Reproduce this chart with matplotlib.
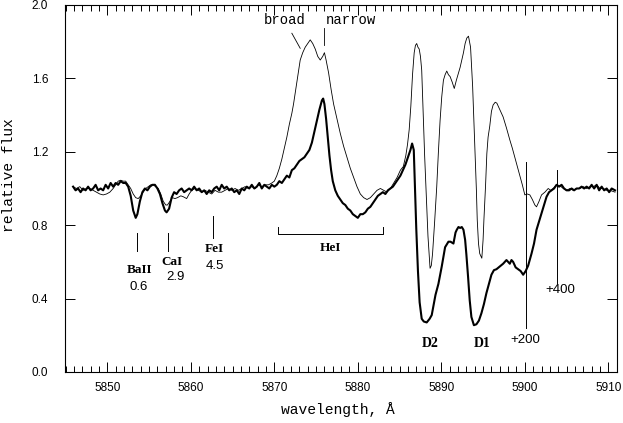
import numpy as np
import matplotlib
matplotlib.use("Agg")
import matplotlib.pyplot as plt
from matplotlib.ticker import MultipleLocator, FormatStrFormatter

# ─────────────────────────────────────────
# DATA
# ─────────────────────────────────────────

# thick line: narrow component spectrum
narrow_wl = [
    5845.9, 5846.2, 5846.5, 5846.8, 5847.1, 5847.4, 5847.7, 5848.0, 5848.3, 5848.6,
    5848.9, 5849.2, 5849.5, 5849.8, 5850.1, 5850.4, 5850.7, 5851.0, 5851.3, 5851.6,
    5851.9, 5852.2, 5852.5, 5852.8, 5853.1, 5853.4, 5853.6, 5853.9, 5854.2, 5854.5,
    5854.8, 5855.1, 5855.4, 5855.7, 5856.0, 5856.3, 5856.6, 5856.9, 5857.1, 5857.4,
    5857.7, 5858.0, 5858.3, 5858.6, 5858.9, 5859.2, 5859.5, 5859.8, 5860.1, 5860.4,
    5860.7, 5861.0, 5861.3, 5861.6, 5861.9, 5862.2, 5862.5, 5862.8, 5863.1, 5863.4,
    5863.7, 5864.0, 5864.3, 5864.6, 5864.9, 5865.2, 5865.5, 5865.8, 5866.1, 5866.4,
    5866.7, 5867.0, 5867.3, 5867.6, 5867.9, 5868.2, 5868.5, 5868.8, 5869.1, 5869.4,
    5869.7, 5870.0, 5870.3, 5870.6, 5870.9, 5871.2, 5871.5, 5871.8, 5872.1, 5872.4,
    5872.7, 5873.0, 5873.3, 5873.6, 5873.9, 5874.2, 5874.5, 5874.8, 5875.1, 5875.4,
    5875.7, 5875.85, 5876.0, 5876.2, 5876.4, 5876.6, 5876.8, 5877.0, 5877.3, 5877.6,
    5877.9, 5878.2, 5878.5, 5878.8, 5879.1, 5879.4, 5879.7, 5880.0, 5880.3, 5880.6,
    5880.9, 5881.2, 5881.5, 5881.8, 5882.1, 5882.4, 5882.7, 5883.0, 5883.3, 5883.6,
    5883.9, 5884.2, 5884.5, 5884.8, 5885.1, 5885.4, 5885.7, 5886.0, 5886.3, 5886.5,
    5886.7, 5886.85, 5887.0, 5887.2, 5887.4, 5887.65, 5887.9, 5888.25, 5888.6, 5888.85,
    5889.1, 5889.3, 5889.65, 5890.05, 5890.45, 5890.85, 5891.1, 5891.45, 5891.7, 5891.85,
    5892.05, 5892.25, 5892.45, 5892.65, 5892.85, 5893.0, 5893.2, 5893.4, 5893.6, 5893.9,
    5894.2, 5894.5, 5894.8, 5895.1, 5895.4, 5895.7, 5896.0, 5896.3, 5896.6, 5897.0,
    5897.4, 5897.8, 5898.0, 5898.2, 5898.4, 5898.6, 5898.9, 5899.2, 5899.5, 5899.8,
    5900.1, 5900.4, 5900.8, 5901.1, 5901.4, 5901.7, 5902.0, 5902.3, 5902.6, 5902.9,
    5903.2, 5903.5, 5903.8, 5904.1, 5904.4, 5904.7, 5905.0, 5905.3, 5905.6, 5905.9,
    5906.2, 5906.5, 5906.8, 5907.1, 5907.4, 5907.7, 5908.0, 5908.3, 5908.6, 5908.9,
    5909.2, 5909.5, 5909.8, 5910.1, 5910.4, 5910.8,
]
narrow_flux = [
    1.01, 0.99, 1.00, 0.98, 1.00, 0.99, 1.01, 0.99, 1.00, 1.02,
    0.99, 1.00, 0.99, 1.02, 1.00, 1.03, 1.01, 1.03, 1.02, 1.04,
    1.03, 1.03, 1.01, 0.96, 0.88, 0.84, 0.86, 0.93, 0.98, 1.00,
    0.99, 1.01, 1.02, 1.02, 1.00, 0.97, 0.92, 0.88, 0.87, 0.89,
    0.95, 0.98, 0.97, 0.99, 1.00, 0.98, 0.99, 1.00, 0.99, 1.01,
    0.99, 1.00, 0.98, 0.99, 0.97, 0.99, 0.98, 1.00, 1.01, 0.99,
    1.02, 1.00, 1.01, 0.99, 1.00, 0.98, 0.99, 0.97, 1.00, 0.99,
    1.01, 1.00, 1.02, 1.00, 1.01, 1.03, 1.00, 1.02, 1.01, 1.00,
    1.02, 1.01, 1.02, 1.04, 1.03, 1.05, 1.07, 1.06, 1.10, 1.11,
    1.13, 1.15, 1.16, 1.17, 1.19, 1.21, 1.25, 1.31, 1.37, 1.43,
    1.48, 1.49, 1.46, 1.38, 1.28, 1.18, 1.10, 1.04, 0.99, 0.96,
    0.94, 0.92, 0.91, 0.89, 0.88, 0.86, 0.85, 0.84, 0.86, 0.86,
    0.87, 0.89, 0.90, 0.92, 0.94, 0.96, 0.97, 0.98, 0.97, 0.99,
    1.00, 1.01, 1.03, 1.05, 1.07, 1.10, 1.13, 1.17, 1.21, 1.245,
    1.21, 1.00, 0.78, 0.55, 0.38, 0.29, 0.275, 0.27, 0.29, 0.31,
    0.37, 0.42, 0.48, 0.575, 0.68, 0.71, 0.71, 0.70, 0.76, 0.775,
    0.79, 0.785, 0.79, 0.775, 0.72, 0.64, 0.52, 0.39, 0.30, 0.255,
    0.26, 0.28, 0.32, 0.37, 0.43, 0.48, 0.53, 0.555, 0.56, 0.575,
    0.59, 0.61, 0.60, 0.59, 0.61, 0.60, 0.57, 0.56, 0.55, 0.53,
    0.55, 0.58, 0.645, 0.70, 0.775, 0.82, 0.865, 0.91, 0.955, 0.98,
    0.99, 1.00, 1.02, 1.01, 1.02, 1.00, 0.99, 0.99, 1.00, 0.99,
    1.00, 1.00, 1.01, 1.00, 1.01, 1.00, 1.02, 1.00, 1.02, 0.99,
    1.01, 0.99, 1.00, 0.98, 1.00, 0.99,
]

# thin line: broad component spectrum
broad_wl = [
    5845.9, 5846.3, 5846.7, 5847.1, 5847.5, 5847.9, 5848.3, 5848.7, 5849.1, 5849.5,
    5849.9, 5850.3, 5850.7, 5851.0, 5851.3, 5851.6, 5851.9, 5852.2, 5852.5, 5852.8,
    5853.1, 5853.4, 5853.7, 5854.0, 5854.3, 5854.6, 5854.9, 5855.2, 5855.5, 5855.8,
    5856.1, 5856.4, 5856.7, 5857.0, 5857.2, 5857.5, 5857.8, 5858.1, 5858.4, 5858.8,
    5859.1, 5859.5, 5859.8, 5860.1, 5860.5, 5860.9, 5861.3, 5861.7, 5862.1, 5862.5,
    5862.9, 5863.3, 5863.7, 5864.1, 5864.5, 5864.9, 5865.3, 5865.7, 5866.1, 5866.5,
    5866.9, 5867.3, 5867.7, 5868.1, 5868.5, 5868.9, 5869.3, 5869.7, 5870.0, 5870.3,
    5870.6, 5870.9, 5871.2, 5871.5, 5871.8, 5872.1, 5872.3, 5872.6, 5872.9, 5873.1,
    5873.4, 5873.7, 5874.0, 5874.3, 5874.6, 5874.9, 5875.2, 5875.5, 5875.8, 5876.0,
    5876.2, 5876.5, 5876.8, 5877.1, 5877.5, 5877.9, 5878.3, 5878.7, 5879.1, 5879.5,
    5879.9, 5880.3, 5880.7, 5881.1, 5881.5, 5881.9, 5882.3, 5882.7, 5883.1, 5883.5,
    5883.9, 5884.3, 5884.7, 5885.1, 5885.45, 5885.75, 5885.95, 5886.15, 5886.35, 5886.55,
    5886.75, 5886.9, 5887.05, 5887.2, 5887.35, 5887.5, 5887.65, 5887.85, 5888.0, 5888.15,
    5888.4, 5888.65, 5888.8, 5888.95, 5889.2, 5889.45, 5889.65, 5889.85, 5890.05, 5890.25,
    5890.45, 5890.65, 5890.85, 5891.05, 5891.3, 5891.55, 5891.8, 5892.05, 5892.25, 5892.45,
    5892.65, 5892.85, 5893.05, 5893.25, 5893.5, 5893.75, 5893.9, 5894.05, 5894.2, 5894.3,
    5894.45, 5894.6, 5894.85, 5895.0, 5895.1, 5895.3, 5895.45, 5895.6, 5895.8, 5896.0,
    5896.2, 5896.45, 5896.65, 5897.0, 5897.4, 5897.8, 5898.2, 5898.5, 5898.8, 5899.1,
    5899.4, 5899.7, 5900.0, 5900.3, 5900.6, 5900.9, 5901.2, 5901.4, 5901.7, 5902.0,
    5902.4, 5902.8, 5903.1, 5903.4, 5903.8, 5904.2, 5904.6, 5905.0, 5905.4, 5905.8,
    5906.2, 5906.6, 5907.0, 5907.4, 5907.8, 5908.2, 5908.6, 5909.0, 5909.4, 5909.8,
    5910.2, 5910.8,
]
broad_flux = [
    1.01, 1.00, 1.01, 0.99, 1.00, 1.00, 0.99, 0.98, 0.97, 0.965,
    0.97, 0.98, 1.00, 1.02, 1.04, 1.045, 1.04, 1.04, 1.02, 1.00,
    0.97, 0.95, 0.945, 0.96, 0.98, 1.00, 1.01, 1.02, 1.02, 1.01,
    1.00, 0.97, 0.93, 0.91, 0.91, 0.93, 0.95, 0.945, 0.95, 0.96,
    0.955, 0.945, 0.97, 0.99, 1.00, 0.99, 0.98, 0.99, 0.98, 0.97,
    0.99, 0.98, 0.98, 0.99, 1.00, 0.99, 1.00, 0.99, 1.00, 1.01,
    1.00, 1.01, 1.00, 1.02, 1.01, 1.02, 1.02, 1.03, 1.04, 1.07,
    1.11, 1.16, 1.22, 1.28, 1.35, 1.41, 1.46, 1.55, 1.64, 1.70,
    1.74, 1.77, 1.79, 1.81, 1.79, 1.76, 1.72, 1.70, 1.72, 1.74,
    1.70, 1.63, 1.54, 1.46, 1.38, 1.30, 1.23, 1.17, 1.11, 1.06,
    1.01, 0.97, 0.95, 0.94, 0.95, 0.97, 0.99, 1.00, 0.99, 0.98,
    1.00, 1.03, 1.06, 1.10, 1.12, 1.18, 1.24, 1.32, 1.45, 1.62,
    1.74, 1.78, 1.79, 1.77, 1.76, 1.72, 1.645, 1.37, 1.18, 1.01,
    0.74, 0.565, 0.58, 0.645, 0.82, 1.01, 1.20, 1.37, 1.50, 1.59,
    1.62, 1.64, 1.62, 1.61, 1.58, 1.545, 1.59, 1.63, 1.66, 1.70,
    1.74, 1.79, 1.82, 1.83, 1.77, 1.555, 1.37, 1.19, 0.99, 0.83,
    0.70, 0.645, 0.62, 0.72, 0.83, 1.02, 1.19, 1.28, 1.34, 1.42,
    1.455, 1.47, 1.465, 1.43, 1.39, 1.33, 1.265, 1.22, 1.17, 1.12,
    1.07, 1.02, 0.965, 0.97, 0.965, 0.94, 0.91, 0.90, 0.93, 0.965,
    0.98, 1.00, 0.99, 1.00, 1.02, 1.015, 1.00, 0.99, 1.00, 0.99,
    1.00, 1.00, 1.01, 1.00, 1.01, 1.01, 1.02, 1.00, 1.00, 0.99,
    0.99, 0.98,
]

# line identifications: (name, equivalent width text, wavelength)
line_names = ["BaII", "CaI", "FeI"]
line_values = ["0.6", "2.9", "4.5"]
line_wl = [5853.6, 5857.3, 5862.6]

# velocity markers
vel_labels = ["+200", "+400"]
vel_wl = [5900.1, 5903.8]

# ─────────────────────────────────────────
# PLOT
# ─────────────────────────────────────────

MONO = "Liberation Mono"
SERIF = "Liberation Serif"
SANS = "Liberation Sans"

fig = plt.figure(figsize=(6.23, 4.23), dpi=100)
ax = fig.add_axes([0.1043, 0.1206, 0.8853, 0.8676])

ax.plot(broad_wl, broad_flux, color="black", lw=0.6)
ax.plot(narrow_wl, narrow_flux, color="black", lw=1.5)

ax.set_xlim(5844.93, 5910.98)
ax.set_ylim(0.0, 2.0)
ax.xaxis.set_major_locator(MultipleLocator(10))
ax.xaxis.set_minor_locator(MultipleLocator(1))
ax.yaxis.set_major_locator(MultipleLocator(0.4))
ax.yaxis.set_major_formatter(FormatStrFormatter("%.1f"))
ax.tick_params(which="both", direction="in", top=True, right=True, width=0.7)
ax.tick_params(which="major", length=7.2)
ax.tick_params(which="minor", length=4.3)
ax.tick_params(axis="x", pad=7)
ax.tick_params(axis="y", pad=12)
for lab in ax.get_xticklabels() + ax.get_yticklabels():
    lab.set_fontfamily(SANS)
    lab.set_fontsize(8.5)
for sp in ax.spines.values():
    sp.set_linewidth(0.8)

ax.set_xlabel("wavelength, Å", fontfamily=MONO, fontsize=10.5, va="center")
ax.xaxis.set_label_coords(0.495, -0.1035)
ax.set_ylabel("relative flux", fontfamily=MONO, fontsize=10.5, va="center")
ax.yaxis.set_label_coords(-0.102, 0.537)

# broad / narrow labels
ax.text(5871.2, 1.92, "broad", fontfamily=MONO, fontsize=10, ha="center", va="center")
ax.plot([5872.1, 5873.1], [1.846, 1.764], color="black", lw=0.6)
ax.text(5879.2, 1.92, "narrow", fontfamily=MONO, fontsize=10, ha="center", va="center")
ax.plot([5876.0, 5876.0], [1.875, 1.78], color="black", lw=0.6)

# metal line identifications
name_off = [(0.2, 0.556), (0.45, 0.60), (0.2, 0.67)]
val_off = [(0.2, 0.463), (0.9, 0.518), (0.3, 0.58)]
tick_y = [(0.661, 0.756), (0.661, 0.756), (0.73, 0.85)]
for i in range(len(line_names)):
    ax.plot([line_wl[i], line_wl[i]], tick_y[i], color="black", lw=0.7)
    ax.text(line_wl[i] + name_off[i][0], name_off[i][1], line_names[i],
            fontfamily=SERIF, fontweight="bold", fontsize=9.5, ha="center", va="center")
    ax.text(line_wl[i] + val_off[i][0], val_off[i][1], line_values[i],
            fontfamily=SANS, fontsize=9.5, ha="center", va="center")

# HeI bracket
ax.plot([5870.45, 5870.45, 5883.0, 5883.0], [0.79, 0.752, 0.752, 0.79], color="black", lw=0.7)
ax.text(5876.7, 0.675, "HeI", fontfamily=SERIF, fontweight="bold", fontsize=9.5,
        ha="center", va="center")

# sodium D lines
ax.text(5888.65, 0.153, "D2", fontfamily=SERIF, fontweight="bold", fontsize=10,
        ha="center", va="center")
ax.text(5894.85, 0.153, "D1", fontfamily=SERIF, fontweight="bold", fontsize=10,
        ha="center", va="center")

# velocity markers
ax.plot([vel_wl[0], vel_wl[0]], [0.24, 1.146], color="black", lw=0.7)
ax.plot([vel_wl[1], vel_wl[1]], [0.487, 1.10], color="black", lw=0.7)
ax.text(vel_wl[0], 0.174, vel_labels[0], fontfamily=SANS, fontsize=9.5, ha="center", va="center")
ax.text(vel_wl[1] + 0.5, 0.447, vel_labels[1], fontfamily=SANS, fontsize=9.5,
        ha="center", va="center")

fig.savefig("out.png", dpi=100)
